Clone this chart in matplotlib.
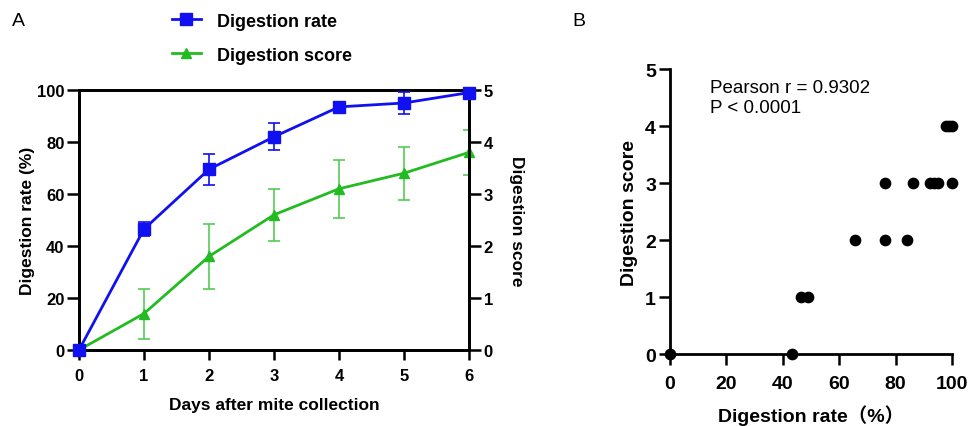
import matplotlib
matplotlib.use("Agg")
import matplotlib.pyplot as plt

plt.rcParams["font.family"] = ["Liberation Sans", "Noto Sans CJK SC", "DejaVu Sans"]

# Panel A data
days = [0, 1, 2, 3, 4, 5, 6]
rate_mean = [0, 46.5, 69.5, 82, 93.5, 95, 99]
rate_err = [0, 2.8, 6, 5.2, 1, 4.3, 1]
score_mean = [0, 0.7, 1.8, 2.6, 3.1, 3.4, 3.8]
score_err = [0, 0.48, 0.62, 0.5, 0.56, 0.51, 0.43]

# Panel B data
scatter_rate = [0, 43.2, 46.6, 49.1, 65.7, 76.2, 83.9, 76.2, 86, 92.2, 93.6, 95.1, 100, 98, 99, 100]
scatter_score = [0, 0, 1, 1, 2, 2, 2, 3, 3, 3, 3, 3, 3, 4, 4, 4]

BLUE = "#1010F0"
GREEN = "#22BB22"
GREEN_ERR = "#55CC55"

fig = plt.figure(figsize=(9.68, 4.27), dpi=100)

# ---------- Panel A ----------
ax1 = fig.add_axes([0.0816, 0.1780, 0.4029, 0.6089])
ax2 = ax1.twinx()

ax1.errorbar(days, rate_mean, yerr=rate_err, color=BLUE, ecolor=BLUE,
             elinewidth=1.2, capsize=4, capthick=1.2, zorder=3, lw=0)
l1, = ax1.plot(days, rate_mean, color=BLUE, lw=2, marker="s", markersize=8,
               label="Digestion rate", zorder=4, clip_on=False)

ax2.errorbar(days, score_mean, yerr=score_err, color=GREEN_ERR, ecolor=GREEN_ERR,
             elinewidth=1.2, capsize=4, capthick=1.2, zorder=2, lw=0)
l2, = ax2.plot(days, score_mean, color=GREEN, lw=2, marker="^", markersize=7,
               label="Digestion score", zorder=3, clip_on=False)
ax1.set_zorder(ax2.get_zorder() + 1)
ax1.patch.set_visible(False)

ax1.set_xlim(0, 6)
ax1.set_ylim(0, 100)
ax2.set_ylim(0, 5)
ax1.set_xticks(days)
ax1.set_yticks([0, 20, 40, 60, 80, 100])
ax2.set_yticks([0, 1, 2, 3, 4, 5])

for a in (ax1, ax2):
    for s in a.spines.values():
        s.set_linewidth(2)
    a.tick_params(axis="x", width=1.8, length=7, labelsize=12, pad=6)
    a.tick_params(axis="y", width=1.8, length=8.5, labelsize=12, pad=2)
    for lab in a.get_xticklabels() + a.get_yticklabels():
        lab.set_fontweight("bold")

ax1.set_xlabel("Days after mite collection", fontsize=12.5, fontweight="bold", labelpad=10)
ax1.set_ylabel("Digestion rate (%)", fontsize=12.5, fontweight="bold", labelpad=1.5)
ax2.set_ylabel("Digestion score", fontsize=12.5, fontweight="bold", rotation=270, labelpad=22.5)

fig.legend(handles=[l1, l2], loc="upper left", bbox_to_anchor=(172 / 968, 0.968),
           frameon=False, labelspacing=0.95, handlelength=1.6, handletextpad=0.9,
           borderpad=0, borderaxespad=0,
           prop={"weight": "bold", "size": 13})

fig.text(12 / 968, 1 - 22 / 427, "A", fontsize=14, va="center")
fig.text(572 / 968, 1 - 22 / 427, "B", fontsize=14, va="center")

# ---------- Panel B ----------
ax3 = fig.add_axes([0.692, 0.1686, 0.2915, 0.6674])
ax3.scatter(scatter_rate, scatter_score, s=55, color="black", zorder=3, clip_on=False)
ax3.set_xlim(0, 100)
ax3.set_ylim(0, 5)
ax3.set_xticks([0, 20, 40, 60, 80, 100])
ax3.set_yticks([0, 1, 2, 3, 4, 5])
ax3.spines["top"].set_visible(False)
ax3.spines["right"].set_visible(False)
for s in ax3.spines.values():
    s.set_linewidth(2)
ax3.tick_params(axis="x", width=1.8, length=8, labelsize=14, pad=7)
ax3.tick_params(axis="y", width=1.8, length=8, labelsize=14, pad=2)
for lab in ax3.get_xticklabels() + ax3.get_yticklabels():
    lab.set_fontweight("bold")
ax3.set_xlabel("Digestion rate（%）", fontsize=14, fontweight="bold", labelpad=9)
ax3.set_ylabel("Digestion score", fontsize=14, fontweight="bold", labelpad=5)
ax3.text(0.142, 0.965, "Pearson r = 0.9302\nP < 0.0001", transform=ax3.transAxes,
         fontsize=13.5, va="top", ha="left", linespacing=1.22)

fig.savefig("out.png", dpi=100)
